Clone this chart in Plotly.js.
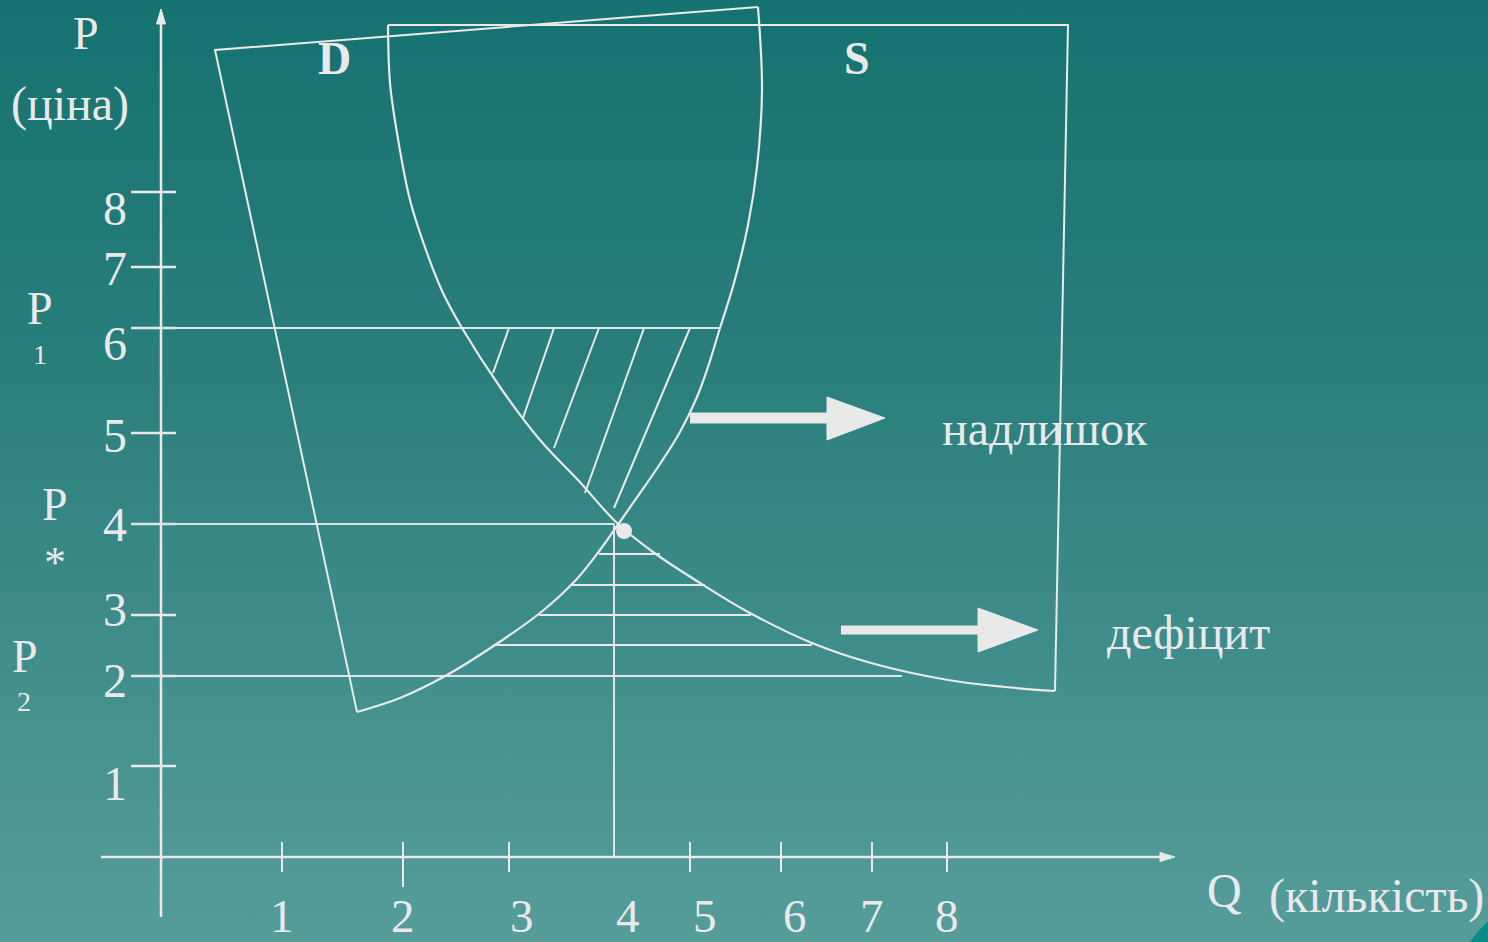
<!DOCTYPE html>
<html>
<head>
<meta charset="utf-8">
<script src="https://cdn.plot.ly/plotly-3.0.1.min.js"></script>
<style>
  html, body { margin: 0; padding: 0; overflow: hidden; width: 1488px; height: 942px; }
  body { background: linear-gradient(to bottom, #157270 0%, #2a7f7d 40%, #569d9a 100%); }
  #chart { width: 1488px; height: 942px; }
</style>
</head>
<body>
<div id="chart"></div>
<script>
// ---- Data (drawing units, y grows downward) ----
// Supply curve (rising), bottom-left to top
const supplyX = [357, 400, 447, 495, 540, 575, 600, 617, 640, 660, 680, 697, 708, 720, 734, 748, 757, 762, 758];
const supplyY = [712, 698, 675, 645, 613, 581, 550, 526, 493, 464, 432, 397, 367, 328, 283, 225, 167, 90, 7];
// Demand curve (falling), top to bottom-right
const demandX = [388, 390, 397, 410, 427, 443, 462, 500, 540, 578, 617, 653, 700, 750, 812, 871, 948, 1005, 1055];
const demandY = [25, 83, 133, 200, 253, 293, 328, 387, 440, 480, 523, 552, 583, 613, 643, 663, 680, 687, 691];
// Straight frame edges of the D and S boxes
const dFrameX = [357, 215, 758];
const dFrameY = [712, 50, 7];
const sFrameX = [388, 1068, 1055];
const sFrameY = [25, 25, 691];

// Price axis
const priceLabels = ['1', '2', '3', '4', '5', '6', '7', '8'];
const priceTickY = [766, 676, 615, 524, 433, 328, 267, 192];
const priceLabelY = [783, 680, 609, 524, 435, 343, 268, 208];
// Quantity axis
const qtyLabels = ['1', '2', '3', '4', '5', '6', '7', '8'];
const qtyTickX = [282, 403, 509, 614, 690, 781, 872, 947];
const qtyLabelX = [282, 403, 522, 628, 705, 795, 872, 947];

// Price levels P1, P*, P2 drawn across
const levelNames = ['P1', 'P*', 'P2'];
const levelY = [328, 524, 676];
const levelEndX = [719, 614, 902];
// Equilibrium
const eqX = [624];
const eqY = [531];

// Surplus hatching (diagonal)
const surplusTopX = [509, 554, 599, 644, 690];
const surplusBotX = [493, 523, 554, 585, 614];
const surplusBotY = [373, 418, 448, 493, 508];
// Deficit hatching (horizontal)
const deficitY = [554, 585, 615, 645];
const deficitX0 = [599, 570, 539, 493];
const deficitX1 = [660, 705, 751, 812];

// Big arrows
const surplusArrowX = [690, 827, 827, 885, 827, 827, 690];
const surplusArrowY = [413, 413, 397, 418, 440, 423, 423];
const deficitArrowX = [841, 978, 978, 1038, 978, 978, 841];
const deficitArrowY = [626, 626, 608, 630, 652, 634, 634];

const INK = '#e9e9e9';
const SERIF = 'Liberation Serif, Times New Roman, serif';

function segs(x0, y0, x1, y1) {
  const xs = [], ys = [];
  for (let i = 0; i < x0.length; i++) {
    xs.push(x0[i], x1[i], null);
    ys.push(y0[i], y1[i], null);
  }
  return {x: xs, y: ys};
}

const traces = [];
function lineTrace(x, y, width, shape, color) {
  traces.push({type: 'scatter', mode: 'lines', x: x, y: y, hoverinfo: 'skip',
    line: {color: color || INK, width: width, shape: shape || 'linear', smoothing: 1},
    showlegend: false});
}

// Axes
lineTrace([161, 161], [917, 20], 2.5);
lineTrace([101, 1162], [857, 857], 2.5);
// Price ticks
const pt = segs(priceTickY.map(() => 131), priceTickY, priceTickY.map(() => 176), priceTickY);
lineTrace(pt.x, pt.y, 2.5);
// Quantity ticks (4 is drawn by the vertical equilibrium line)
const qx0 = [], qy0 = [], qy1 = [];
qtyTickX.forEach((x, i) => { if (i !== 3) { qx0.push(x); qy0.push(842); qy1.push(i === 1 ? 887 : 872); } });
const qt = segs(qx0, qy0, qx0, qy1);
lineTrace(qt.x, qt.y, 2);
// Price level lines
const lv = segs(levelY.map(() => 131), levelY, levelEndX, levelY);
lineTrace(lv.x, lv.y, 2, 'linear', '#dde6e6');
// Vertical line from equilibrium
lineTrace([614, 614], [524, 857], 2, 'linear', '#dde6e6');
// Hatching
const sh = segs(surplusTopX, surplusTopX.map(() => 328), surplusBotX, surplusBotY);
lineTrace(sh.x, sh.y, 2);
const dh = segs(deficitX0, deficitY, deficitX1, deficitY);
lineTrace(dh.x, dh.y, 2);
// Frames
lineTrace(dFrameX, dFrameY, 2);
lineTrace(sFrameX, sFrameY, 2);
// Curves
lineTrace(supplyX, supplyY, 2.2, 'spline');
lineTrace(demandX, demandY, 2.2, 'spline');

// Filled arrows and axis arrowheads
function poly(x, y) {
  traces.push({type: 'scatter', mode: 'lines', x: x, y: y, fill: 'toself', fillcolor: INK,
    line: {color: INK, width: 1}, hoverinfo: 'skip', showlegend: false});
}
poly(surplusArrowX, surplusArrowY);
poly(deficitArrowX, deficitArrowY);
poly([161, 156.5, 165.5, 161], [9, 24, 24, 9]);
poly([1175, 1160, 1160, 1175], [857, 852.5, 861.5, 857]);

// Equilibrium dot
traces.push({type: 'scatter', mode: 'markers', x: eqX, y: eqY, hoverinfo: 'skip', showlegend: false,
  marker: {size: 16, color: INK, line: {width: 0}}});

// Text
const ann = [];
function txt(t, x, y, size, bold) {
  ann.push({text: bold ? '<b>' + t + '</b>' : t, x: x, y: y, xref: 'x', yref: 'y',
    xanchor: 'center', yanchor: 'middle', showarrow: false,
    font: {family: SERIF, size: size, color: INK}});
}
priceLabels.forEach((l, i) => txt(l, 115, priceLabelY[i], 48));
qtyLabels.forEach((l, i) => txt(l, qtyLabelX[i], 916, 47));
txt('P', 86, 33, 46);
txt('(ціна)', 70, 104, 48);
txt('D', 334, 58, 46, true);
txt('S', 857, 58, 46, true);
txt('P', 40, 308, 46);
txt('1', 40, 354, 28);
txt('P', 55, 504, 46);
txt('*', 55, 562, 44);
txt('P', 25, 656, 46);
txt('2', 24, 701, 28);
txt('надлишок', 1045, 428, 48);
txt('дефіцит', 1188, 632, 48);
txt('Q', 1224, 890, 48);
txt('(кількість)', 1376, 896, 48);

const layout = {
  width: 1488, height: 942,
  margin: {l: 0, r: 0, t: 0, b: 0, pad: 0},
  paper_bgcolor: 'rgba(0,0,0,0)', plot_bgcolor: 'rgba(0,0,0,0)',
  xaxis: {range: [0, 1488], visible: false, fixedrange: true},
  yaxis: {range: [942, 0], visible: false, fixedrange: true},
  showlegend: false,
  annotations: ann,
  shapes: [{type: 'circle', xref: 'x', yref: 'y', x0: 1452, x1: 1658, y0: 897, y1: 1103,
    fillcolor: '#078c89', line: {width: 0}, layer: 'below'}]
};

Plotly.newPlot('chart', traces, layout, {staticPlot: true, displayModeBar: false});
</script>
</body>
</html>
